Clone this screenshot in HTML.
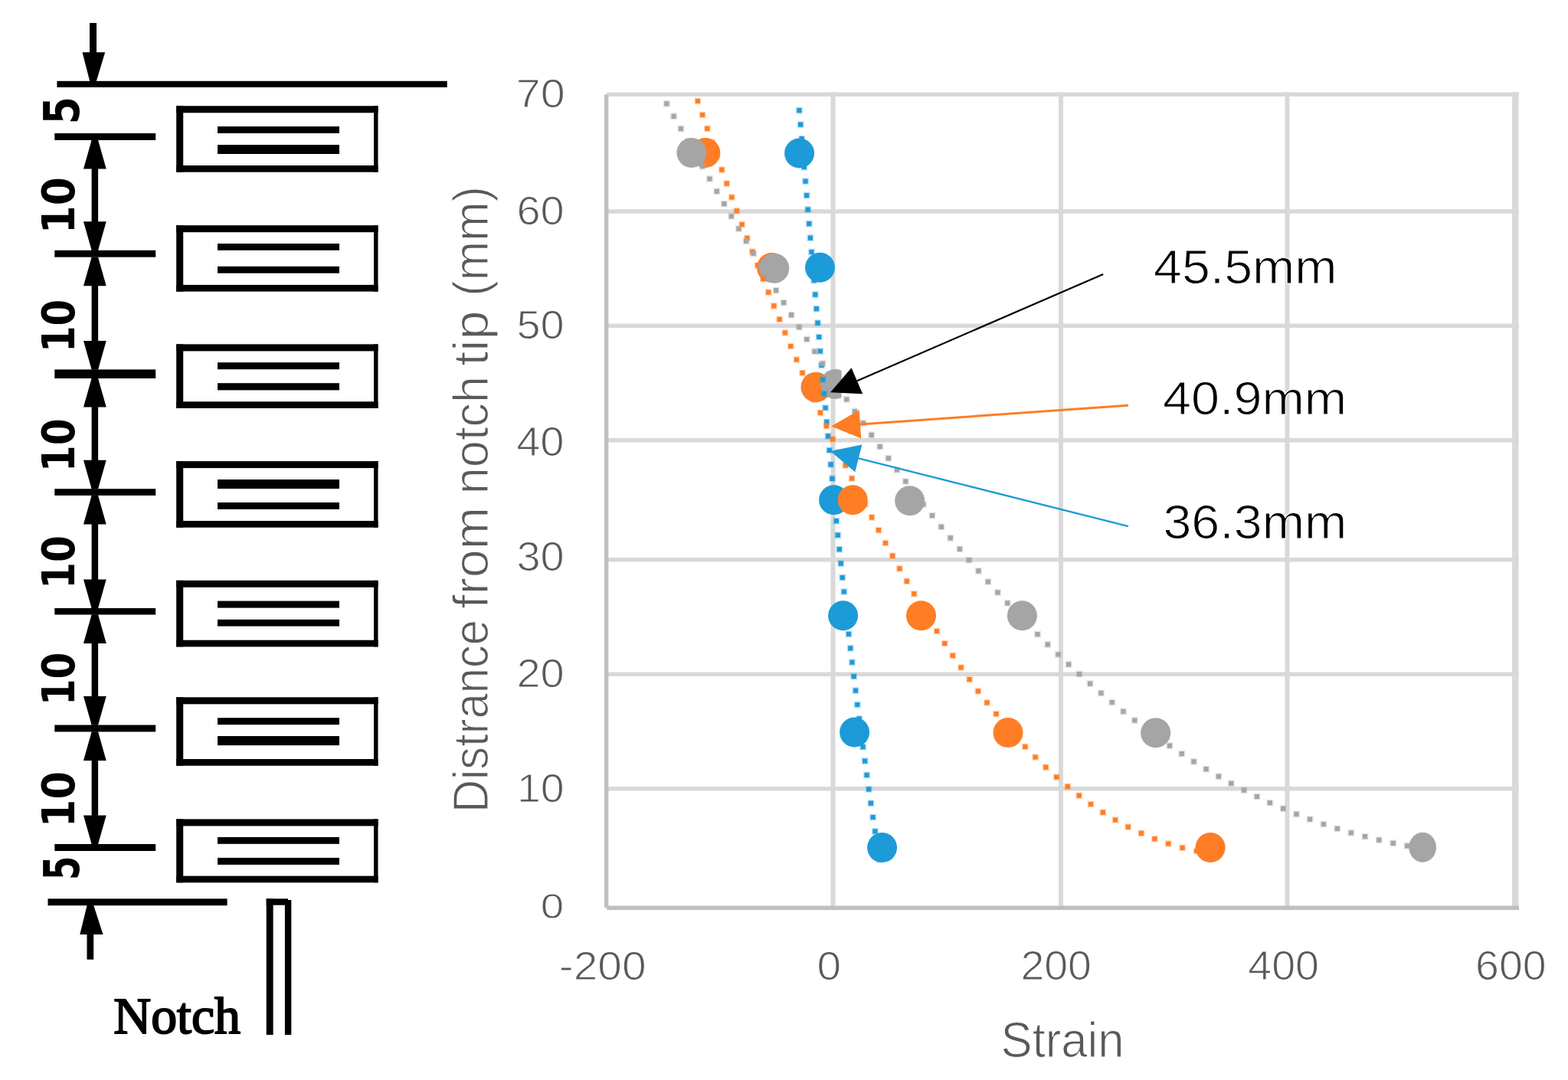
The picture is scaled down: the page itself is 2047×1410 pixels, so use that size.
<!DOCTYPE html>
<html><head><meta charset="utf-8"><title>Strain vs distance from notch tip</title>
<style>html,body{margin:0;padding:0;background:#fff;}svg{display:block;}</style></head>
<body><svg width="2047" height="1410" viewBox="0 0 2047 1410">
<defs><clipPath id="c45"><rect x="1060" y="470" width="38.5" height="60"/></clipPath></defs>
<rect width="2047" height="1410" fill="#fff"/>
<rect x="74.4" y="105.8" width="509.3" height="8.2" fill="#000"/>
<rect x="117.0" y="30.0" width="9.0" height="42.0" fill="#000"/>
<polygon points="107.5,68.2 137.2,68.2 125.8,106.0 117.2,106.0" fill="#000"/>
<rect x="71.3" y="174.0" width="131.9" height="9.0" fill="#000"/>
<rect x="71.3" y="326.8" width="131.9" height="8.9" fill="#000"/>
<rect x="71.3" y="482.4" width="131.9" height="11.6" fill="#000"/>
<rect x="71.3" y="638.2" width="131.9" height="8.7" fill="#000"/>
<rect x="71.3" y="794.0" width="131.9" height="8.5" fill="#000"/>
<rect x="71.3" y="946.5" width="131.9" height="8.9" fill="#000"/>
<rect x="71.3" y="1102.0" width="131.9" height="9.0" fill="#000"/>
<rect x="119.6" y="183.0" width="8.5" height="143.8" fill="#000"/>
<polygon points="119.6,183.0 128.1,183.0 138.7,220.5 109.0,220.5" fill="#000"/>
<polygon points="119.6,326.8 128.1,326.8 138.7,289.3 109.0,289.3" fill="#000"/>
<rect x="119.6" y="335.7" width="8.5" height="146.7" fill="#000"/>
<polygon points="119.6,335.7 128.1,335.7 138.7,373.2 109.0,373.2" fill="#000"/>
<polygon points="119.6,482.4 128.1,482.4 138.7,444.9 109.0,444.9" fill="#000"/>
<rect x="119.6" y="494.0" width="8.5" height="144.2" fill="#000"/>
<polygon points="119.6,494.0 128.1,494.0 138.7,531.5 109.0,531.5" fill="#000"/>
<polygon points="119.6,638.2 128.1,638.2 138.7,600.7 109.0,600.7" fill="#000"/>
<rect x="119.6" y="646.9" width="8.5" height="147.1" fill="#000"/>
<polygon points="119.6,646.9 128.1,646.9 138.7,684.4 109.0,684.4" fill="#000"/>
<polygon points="119.6,794.0 128.1,794.0 138.7,756.5 109.0,756.5" fill="#000"/>
<rect x="119.6" y="802.5" width="8.5" height="144.0" fill="#000"/>
<polygon points="119.6,802.5 128.1,802.5 138.7,840.0 109.0,840.0" fill="#000"/>
<polygon points="119.6,946.5 128.1,946.5 138.7,909.0 109.0,909.0" fill="#000"/>
<rect x="119.6" y="955.4" width="8.5" height="146.6" fill="#000"/>
<polygon points="119.6,955.4 128.1,955.4 138.7,992.9 109.0,992.9" fill="#000"/>
<polygon points="119.6,1102.0 128.1,1102.0 138.7,1064.5 109.0,1064.5" fill="#000"/>
<rect x="230.2" y="138.3" width="263.3" height="9.0" fill="#000"/>
<rect x="230.2" y="216.0" width="263.3" height="8.7" fill="#000"/>
<rect x="230.2" y="138.3" width="9.0" height="86.4" fill="#000"/>
<rect x="488.0" y="138.3" width="5.5" height="86.4" fill="#000"/>
<rect x="284.0" y="165.1" width="159.0" height="8.9" fill="#000"/>
<rect x="284.0" y="189.1" width="159.0" height="11.9" fill="#000"/>
<rect x="230.2" y="294.2" width="263.3" height="9.0" fill="#000"/>
<rect x="230.2" y="371.9" width="263.3" height="8.7" fill="#000"/>
<rect x="230.2" y="294.2" width="9.0" height="86.4" fill="#000"/>
<rect x="488.0" y="294.2" width="5.5" height="86.4" fill="#000"/>
<rect x="284.0" y="318.0" width="159.0" height="8.8" fill="#000"/>
<rect x="284.0" y="347.8" width="159.0" height="8.9" fill="#000"/>
<rect x="230.2" y="449.4" width="263.3" height="9.0" fill="#000"/>
<rect x="230.2" y="524.3" width="263.3" height="8.7" fill="#000"/>
<rect x="230.2" y="449.4" width="9.0" height="83.6" fill="#000"/>
<rect x="488.0" y="449.4" width="5.5" height="83.6" fill="#000"/>
<rect x="284.0" y="473.2" width="159.0" height="9.0" fill="#000"/>
<rect x="284.0" y="500.2" width="159.0" height="9.2" fill="#000"/>
<rect x="230.2" y="602.1" width="263.3" height="9.0" fill="#000"/>
<rect x="230.2" y="680.0" width="263.3" height="8.7" fill="#000"/>
<rect x="230.2" y="602.1" width="9.0" height="86.6" fill="#000"/>
<rect x="488.0" y="602.1" width="5.5" height="86.6" fill="#000"/>
<rect x="284.0" y="626.0" width="159.0" height="12.0" fill="#000"/>
<rect x="284.0" y="656.0" width="159.0" height="8.9" fill="#000"/>
<rect x="230.2" y="757.8" width="263.3" height="9.0" fill="#000"/>
<rect x="230.2" y="835.7" width="263.3" height="8.7" fill="#000"/>
<rect x="230.2" y="757.8" width="9.0" height="86.6" fill="#000"/>
<rect x="488.0" y="757.8" width="5.5" height="86.6" fill="#000"/>
<rect x="284.0" y="784.6" width="159.0" height="9.0" fill="#000"/>
<rect x="284.0" y="808.8" width="159.0" height="8.8" fill="#000"/>
<rect x="230.2" y="910.3" width="263.3" height="9.0" fill="#000"/>
<rect x="230.2" y="991.0" width="263.3" height="8.7" fill="#000"/>
<rect x="230.2" y="910.3" width="9.0" height="89.4" fill="#000"/>
<rect x="488.0" y="910.3" width="5.5" height="89.4" fill="#000"/>
<rect x="284.0" y="937.2" width="159.0" height="8.9" fill="#000"/>
<rect x="284.0" y="961.0" width="159.0" height="12.1" fill="#000"/>
<rect x="230.2" y="1069.4" width="263.3" height="9.0" fill="#000"/>
<rect x="230.2" y="1143.6" width="263.3" height="8.7" fill="#000"/>
<rect x="230.2" y="1069.4" width="9.0" height="82.9" fill="#000"/>
<rect x="488.0" y="1069.4" width="5.5" height="82.9" fill="#000"/>
<rect x="284.0" y="1092.9" width="159.0" height="8.9" fill="#000"/>
<rect x="284.0" y="1119.9" width="159.0" height="9.0" fill="#000"/>
<rect x="62.5" y="1173.3" width="234.1" height="8.9" fill="#000"/>
<rect x="113.5" y="1212.0" width="8.7" height="40.7" fill="#000"/>
<polygon points="113.6,1182.0 122.2,1182.0 134.5,1220.0 104.3,1220.0" fill="#000"/>
<rect x="347.7" y="1173.3" width="8.9" height="177.7" fill="#000"/>
<rect x="371.9" y="1175.0" width="8.4" height="176.0" fill="#000"/>
<rect x="347.7" y="1173.3" width="28.3" height="8.4" fill="#000"/>
<line x1="791.6" y1="123.2" x2="1983" y2="123.2" stroke="#d9d9d9" stroke-width="5.5"/>
<line x1="791.6" y1="276" x2="1983" y2="276" stroke="#d9d9d9" stroke-width="5.5"/>
<line x1="791.6" y1="425.3" x2="1983" y2="425.3" stroke="#d9d9d9" stroke-width="5.5"/>
<line x1="791.6" y1="574.8" x2="1983" y2="574.8" stroke="#d9d9d9" stroke-width="5.5"/>
<line x1="791.6" y1="730.8" x2="1983" y2="730.8" stroke="#d9d9d9" stroke-width="5.5"/>
<line x1="791.6" y1="880.2" x2="1983" y2="880.2" stroke="#d9d9d9" stroke-width="5.5"/>
<line x1="791.6" y1="1029.7" x2="1983" y2="1029.7" stroke="#d9d9d9" stroke-width="5.5"/>
<line x1="1087.5" y1="120.5" x2="1087.5" y2="1185" stroke="#d9d9d9" stroke-width="6"/>
<line x1="1385" y1="120.5" x2="1385" y2="1185" stroke="#d9d9d9" stroke-width="6"/>
<line x1="1680.5" y1="120.5" x2="1680.5" y2="1185" stroke="#d9d9d9" stroke-width="6"/>
<line x1="1978.3" y1="120.5" x2="1978.3" y2="1188" stroke="#d9d9d9" stroke-width="8.5"/>
<line x1="791.6" y1="123.4" x2="791.6" y2="1185" stroke="#bfbfbf" stroke-width="5.5"/>
<line x1="792.2" y1="1185.3" x2="1983" y2="1185.3" stroke="#bfbfbf" stroke-width="5.5"/>
<ellipse cx="1043.6" cy="200" rx="19.5" ry="19.5" fill="#1d9bd8"/>
<ellipse cx="1070.5" cy="349.3" rx="19.5" ry="19.5" fill="#1d9bd8"/>
<ellipse cx="1065.2" cy="505.4" rx="19.5" ry="19.5" fill="#1d9bd8"/>
<ellipse cx="1088.6" cy="652.8" rx="19.5" ry="19.5" fill="#1d9bd8"/>
<ellipse cx="1100.6" cy="803.7" rx="19.5" ry="19.5" fill="#1d9bd8"/>
<ellipse cx="1115.6" cy="956" rx="19.5" ry="19.5" fill="#1d9bd8"/>
<ellipse cx="1151.6" cy="1106.6" rx="19.5" ry="19.5" fill="#1d9bd8"/>
<ellipse cx="920.8" cy="199.5" rx="19.5" ry="19.5" fill="#ff7d25"/>
<ellipse cx="1007.5" cy="349.5" rx="19.5" ry="19.5" fill="#ff7d25"/>
<ellipse cx="1065.2" cy="505.4" rx="19.5" ry="19.5" fill="#ff7d25"/>
<ellipse cx="1113.3" cy="652.8" rx="19.5" ry="19.5" fill="#ff7d25"/>
<ellipse cx="1202.5" cy="803.7" rx="19.5" ry="19.5" fill="#ff7d25"/>
<ellipse cx="1316" cy="956.5" rx="19.5" ry="19.5" fill="#ff7d25"/>
<ellipse cx="1580.1" cy="1106.5" rx="19.5" ry="19.5" fill="#ff7d25"/>
<ellipse cx="902.9" cy="199.4" rx="19.5" ry="19.5" fill="#a5a5a5"/>
<ellipse cx="1010.8" cy="350.3" rx="19.5" ry="19.5" fill="#a5a5a5"/>
<ellipse cx="1090.5" cy="501.5" rx="19.5" ry="19.5" fill="#a5a5a5" clip-path="url(#c45)"/>
<ellipse cx="1187.7" cy="653.8" rx="19.5" ry="19.5" fill="#a5a5a5"/>
<ellipse cx="1334.4" cy="803.7" rx="19.5" ry="19.5" fill="#a5a5a5"/>
<ellipse cx="1508.7" cy="956.8" rx="19.5" ry="19.5" fill="#a5a5a5"/>
<ellipse cx="1857.2" cy="1106.2" rx="17.8" ry="19.5" fill="#a5a5a5"/>
<path d="M1038.9 139.7h9v9h-9zM1040.6 158.2h9v9h-9zM1042.2 176.7h9v9h-9zM1043.8 195.2h9v9h-9zM1045.4 213.7h9v9h-9zM1047.0 232.2h9v9h-9zM1048.6 250.6h9v9h-9zM1050.2 269.1h9v9h-9zM1051.8 287.6h9v9h-9zM1053.4 306.1h9v9h-9zM1055.0 324.6h9v9h-9zM1056.6 343.1h9v9h-9zM1058.2 361.6h9v9h-9zM1059.8 380.1h9v9h-9zM1061.4 398.6h9v9h-9zM1063.0 417.1h9v9h-9zM1064.7 435.5h9v9h-9zM1066.3 454.0h9v9h-9zM1068.0 472.5h9v9h-9zM1069.7 491.0h9v9h-9zM1071.4 509.5h9v9h-9zM1073.1 528.0h9v9h-9zM1074.8 546.4h9v9h-9zM1076.5 564.9h9v9h-9zM1078.3 583.4h9v9h-9zM1080.1 601.9h9v9h-9zM1081.9 620.3h9v9h-9zM1083.7 638.8h9v9h-9zM1085.5 657.3h9v9h-9zM1087.4 675.7h9v9h-9zM1089.3 694.2h9v9h-9zM1091.3 712.7h9v9h-9zM1093.2 731.1h9v9h-9zM1095.2 749.6h9v9h-9zM1097.3 768.0h9v9h-9zM1099.3 786.5h9v9h-9zM1101.4 804.9h9v9h-9zM1103.5 823.3h9v9h-9zM1105.7 841.8h9v9h-9zM1107.9 860.2h9v9h-9zM1110.2 878.6h9v9h-9zM1112.5 897.1h9v9h-9zM1114.8 915.5h9v9h-9zM1117.2 933.9h9v9h-9zM1119.6 952.3h9v9h-9zM1122.1 970.7h9v9h-9zM1124.6 989.1h9v9h-9zM1127.1 1007.4h9v9h-9zM1129.7 1025.8h9v9h-9zM1132.4 1044.2h9v9h-9zM1135.1 1062.5h9v9h-9zM1137.9 1080.9h9v9h-9zM1140.7 1099.2h9v9h-9zM1143.6 1117.6h9v9h-9z" fill="#1d9bd8" fill-opacity="0.28"/>
<path d="M1040.3 141.1h6.2v6.2h-6.2zM1042.0 159.6h6.2v6.2h-6.2zM1043.6 178.1h6.2v6.2h-6.2zM1045.2 196.6h6.2v6.2h-6.2zM1046.8 215.1h6.2v6.2h-6.2zM1048.4 233.6h6.2v6.2h-6.2zM1050.0 252.0h6.2v6.2h-6.2zM1051.6 270.5h6.2v6.2h-6.2zM1053.2 289.0h6.2v6.2h-6.2zM1054.8 307.5h6.2v6.2h-6.2zM1056.4 326.0h6.2v6.2h-6.2zM1058.0 344.5h6.2v6.2h-6.2zM1059.6 363.0h6.2v6.2h-6.2zM1061.2 381.5h6.2v6.2h-6.2zM1062.8 400.0h6.2v6.2h-6.2zM1064.4 418.5h6.2v6.2h-6.2zM1066.1 436.9h6.2v6.2h-6.2zM1067.7 455.4h6.2v6.2h-6.2zM1069.4 473.9h6.2v6.2h-6.2zM1071.1 492.4h6.2v6.2h-6.2zM1072.8 510.9h6.2v6.2h-6.2zM1074.5 529.4h6.2v6.2h-6.2zM1076.2 547.8h6.2v6.2h-6.2zM1077.9 566.3h6.2v6.2h-6.2zM1079.7 584.8h6.2v6.2h-6.2zM1081.5 603.3h6.2v6.2h-6.2zM1083.3 621.7h6.2v6.2h-6.2zM1085.1 640.2h6.2v6.2h-6.2zM1086.9 658.7h6.2v6.2h-6.2zM1088.8 677.1h6.2v6.2h-6.2zM1090.7 695.6h6.2v6.2h-6.2zM1092.7 714.1h6.2v6.2h-6.2zM1094.6 732.5h6.2v6.2h-6.2zM1096.6 751.0h6.2v6.2h-6.2zM1098.7 769.4h6.2v6.2h-6.2zM1100.7 787.9h6.2v6.2h-6.2zM1102.8 806.3h6.2v6.2h-6.2zM1104.9 824.7h6.2v6.2h-6.2zM1107.1 843.2h6.2v6.2h-6.2zM1109.3 861.6h6.2v6.2h-6.2zM1111.6 880.0h6.2v6.2h-6.2zM1113.9 898.5h6.2v6.2h-6.2zM1116.2 916.9h6.2v6.2h-6.2zM1118.6 935.3h6.2v6.2h-6.2zM1121.0 953.7h6.2v6.2h-6.2zM1123.5 972.1h6.2v6.2h-6.2zM1126.0 990.5h6.2v6.2h-6.2zM1128.5 1008.8h6.2v6.2h-6.2zM1131.1 1027.2h6.2v6.2h-6.2zM1133.8 1045.6h6.2v6.2h-6.2zM1136.5 1063.9h6.2v6.2h-6.2zM1139.3 1082.3h6.2v6.2h-6.2zM1142.1 1100.6h6.2v6.2h-6.2zM1145.0 1119.0h6.2v6.2h-6.2z" fill="#1d9bd8"/>
<path d="M906.4 127.5h9v9h-9zM912.6 145.5h9v9h-9zM918.8 163.4h9v9h-9zM925.1 181.4h9v9h-9zM931.4 199.3h9v9h-9zM937.8 217.2h9v9h-9zM944.3 235.1h9v9h-9zM950.8 253.0h9v9h-9zM957.4 270.8h9v9h-9zM964.1 288.6h9v9h-9zM970.9 306.4h9v9h-9zM977.7 324.2h9v9h-9zM984.6 341.9h9v9h-9zM991.6 359.6h9v9h-9zM998.7 377.2h9v9h-9zM1005.8 394.9h9v9h-9zM1013.1 412.4h9v9h-9zM1020.4 430.0h9v9h-9zM1027.8 447.5h9v9h-9zM1035.4 465.0h9v9h-9zM1043.0 482.4h9v9h-9zM1050.7 499.8h9v9h-9zM1058.5 517.1h9v9h-9zM1066.4 534.4h9v9h-9zM1074.5 551.7h9v9h-9zM1082.6 568.9h9v9h-9zM1090.8 586.0h9v9h-9zM1099.2 603.1h9v9h-9zM1107.6 620.1h9v9h-9zM1116.2 637.1h9v9h-9zM1124.8 654.0h9v9h-9zM1133.6 670.9h9v9h-9zM1142.5 687.7h9v9h-9zM1151.5 704.5h9v9h-9zM1160.7 721.2h9v9h-9zM1169.9 737.8h9v9h-9zM1179.3 754.3h9v9h-9zM1188.8 770.8h9v9h-9zM1198.5 787.2h9v9h-9zM1208.4 803.4h9v9h-9zM1218.5 819.5h9v9h-9zM1228.8 835.5h9v9h-9zM1239.3 851.4h9v9h-9zM1250.1 867.0h9v9h-9zM1261.1 882.5h9v9h-9zM1272.4 897.8h9v9h-9zM1284.0 912.9h9v9h-9zM1296.0 927.7h9v9h-9zM1308.2 942.2h9v9h-9zM1320.8 956.5h9v9h-9zM1333.8 970.4h9v9h-9zM1347.1 984.0h9v9h-9zM1360.8 997.2h9v9h-9zM1374.8 1010.0h9v9h-9zM1389.3 1022.4h9v9h-9zM1404.2 1034.2h9v9h-9zM1419.5 1045.5h9v9h-9zM1435.3 1056.1h9v9h-9zM1451.5 1066.0h9v9h-9zM1468.2 1075.1h9v9h-9zM1485.4 1083.3h9v9h-9zM1502.9 1090.7h9v9h-9zM1520.8 1097.0h9v9h-9zM1539.1 1102.3h9v9h-9zM1557.6 1106.5h9v9h-9z" fill="#ff7d25" fill-opacity="0.28"/>
<path d="M907.8 128.9h6.2v6.2h-6.2zM914.0 146.9h6.2v6.2h-6.2zM920.2 164.8h6.2v6.2h-6.2zM926.5 182.8h6.2v6.2h-6.2zM932.8 200.7h6.2v6.2h-6.2zM939.2 218.6h6.2v6.2h-6.2zM945.7 236.5h6.2v6.2h-6.2zM952.2 254.4h6.2v6.2h-6.2zM958.8 272.2h6.2v6.2h-6.2zM965.5 290.0h6.2v6.2h-6.2zM972.3 307.8h6.2v6.2h-6.2zM979.1 325.6h6.2v6.2h-6.2zM986.0 343.3h6.2v6.2h-6.2zM993.0 361.0h6.2v6.2h-6.2zM1000.1 378.6h6.2v6.2h-6.2zM1007.2 396.3h6.2v6.2h-6.2zM1014.5 413.8h6.2v6.2h-6.2zM1021.8 431.4h6.2v6.2h-6.2zM1029.2 448.9h6.2v6.2h-6.2zM1036.8 466.4h6.2v6.2h-6.2zM1044.4 483.8h6.2v6.2h-6.2zM1052.1 501.2h6.2v6.2h-6.2zM1059.9 518.5h6.2v6.2h-6.2zM1067.8 535.8h6.2v6.2h-6.2zM1075.9 553.1h6.2v6.2h-6.2zM1084.0 570.3h6.2v6.2h-6.2zM1092.2 587.4h6.2v6.2h-6.2zM1100.6 604.5h6.2v6.2h-6.2zM1109.0 621.5h6.2v6.2h-6.2zM1117.6 638.5h6.2v6.2h-6.2zM1126.2 655.4h6.2v6.2h-6.2zM1135.0 672.3h6.2v6.2h-6.2zM1143.9 689.1h6.2v6.2h-6.2zM1152.9 705.9h6.2v6.2h-6.2zM1162.1 722.6h6.2v6.2h-6.2zM1171.3 739.2h6.2v6.2h-6.2zM1180.7 755.7h6.2v6.2h-6.2zM1190.2 772.2h6.2v6.2h-6.2zM1199.9 788.6h6.2v6.2h-6.2zM1209.8 804.8h6.2v6.2h-6.2zM1219.9 820.9h6.2v6.2h-6.2zM1230.2 836.9h6.2v6.2h-6.2zM1240.7 852.8h6.2v6.2h-6.2zM1251.5 868.4h6.2v6.2h-6.2zM1262.5 883.9h6.2v6.2h-6.2zM1273.8 899.2h6.2v6.2h-6.2zM1285.4 914.3h6.2v6.2h-6.2zM1297.4 929.1h6.2v6.2h-6.2zM1309.6 943.6h6.2v6.2h-6.2zM1322.2 957.9h6.2v6.2h-6.2zM1335.2 971.8h6.2v6.2h-6.2zM1348.5 985.4h6.2v6.2h-6.2zM1362.2 998.6h6.2v6.2h-6.2zM1376.2 1011.4h6.2v6.2h-6.2zM1390.7 1023.8h6.2v6.2h-6.2zM1405.6 1035.6h6.2v6.2h-6.2zM1420.9 1046.9h6.2v6.2h-6.2zM1436.7 1057.5h6.2v6.2h-6.2zM1452.9 1067.4h6.2v6.2h-6.2zM1469.6 1076.5h6.2v6.2h-6.2zM1486.8 1084.7h6.2v6.2h-6.2zM1504.3 1092.1h6.2v6.2h-6.2zM1522.2 1098.4h6.2v6.2h-6.2zM1540.5 1103.7h6.2v6.2h-6.2zM1559.0 1107.9h6.2v6.2h-6.2z" fill="#ff7d25"/>
<path d="M865.8 130.9h9v9h-9zM875.1 147.3h9v9h-9zM884.4 163.6h9v9h-9zM893.7 180.0h9v9h-9zM903.1 196.4h9v9h-9zM912.5 212.7h9v9h-9zM921.9 229.0h9v9h-9zM931.3 245.3h9v9h-9zM940.8 261.6h9v9h-9zM950.3 277.8h9v9h-9zM959.9 294.1h9v9h-9zM969.6 310.3h9v9h-9zM979.2 326.4h9v9h-9zM989.0 342.5h9v9h-9zM998.8 358.6h9v9h-9zM1008.6 374.7h9v9h-9zM1018.6 390.7h9v9h-9zM1028.6 406.7h9v9h-9zM1038.6 422.6h9v9h-9zM1048.8 438.5h9v9h-9zM1059.0 454.3h9v9h-9zM1069.4 470.0h9v9h-9zM1079.8 485.7h9v9h-9zM1090.3 501.4h9v9h-9zM1100.8 517.0h9v9h-9zM1111.5 532.5h9v9h-9zM1122.3 547.9h9v9h-9zM1133.2 563.3h9v9h-9zM1144.2 578.6h9v9h-9zM1155.3 593.8h9v9h-9zM1166.5 609.0h9v9h-9zM1177.8 624.0h9v9h-9zM1189.3 639.0h9v9h-9zM1200.8 653.9h9v9h-9zM1212.5 668.6h9v9h-9zM1224.3 683.3h9v9h-9zM1236.3 697.9h9v9h-9zM1248.4 712.3h9v9h-9zM1260.6 726.7h9v9h-9zM1272.9 740.9h9v9h-9zM1285.4 755.0h9v9h-9zM1298.0 769.0h9v9h-9zM1310.8 782.9h9v9h-9zM1323.7 796.6h9v9h-9zM1336.7 810.2h9v9h-9zM1350.0 823.6h9v9h-9zM1363.3 836.9h9v9h-9zM1376.9 850.0h9v9h-9zM1390.6 862.9h9v9h-9zM1404.5 875.6h9v9h-9zM1418.6 888.1h9v9h-9zM1432.9 900.4h9v9h-9zM1447.3 912.5h9v9h-9zM1462.0 924.4h9v9h-9zM1476.8 936.0h9v9h-9zM1491.9 947.3h9v9h-9zM1507.1 958.4h9v9h-9zM1522.5 969.1h9v9h-9zM1538.2 979.6h9v9h-9zM1554.0 989.8h9v9h-9zM1570.1 999.7h9v9h-9zM1586.4 1009.2h9v9h-9zM1602.8 1018.3h9v9h-9zM1619.5 1027.1h9v9h-9zM1636.4 1035.5h9v9h-9zM1653.4 1043.6h9v9h-9zM1670.6 1051.2h9v9h-9zM1688.0 1058.4h9v9h-9zM1705.6 1065.1h9v9h-9zM1723.4 1071.5h9v9h-9zM1741.3 1077.4h9v9h-9zM1759.3 1082.8h9v9h-9zM1777.5 1087.7h9v9h-9zM1795.8 1092.2h9v9h-9zM1814.2 1096.3h9v9h-9zM1832.7 1099.8h9v9h-9zM1851.3 1102.9h9v9h-9z" fill="#a5a5a5" fill-opacity="0.28"/>
<path d="M867.2 132.3h6.2v6.2h-6.2zM876.5 148.7h6.2v6.2h-6.2zM885.8 165.0h6.2v6.2h-6.2zM895.1 181.4h6.2v6.2h-6.2zM904.5 197.8h6.2v6.2h-6.2zM913.9 214.1h6.2v6.2h-6.2zM923.3 230.4h6.2v6.2h-6.2zM932.7 246.7h6.2v6.2h-6.2zM942.2 263.0h6.2v6.2h-6.2zM951.7 279.2h6.2v6.2h-6.2zM961.3 295.5h6.2v6.2h-6.2zM971.0 311.7h6.2v6.2h-6.2zM980.6 327.8h6.2v6.2h-6.2zM990.4 343.9h6.2v6.2h-6.2zM1000.2 360.0h6.2v6.2h-6.2zM1010.0 376.1h6.2v6.2h-6.2zM1020.0 392.1h6.2v6.2h-6.2zM1030.0 408.1h6.2v6.2h-6.2zM1040.0 424.0h6.2v6.2h-6.2zM1050.2 439.9h6.2v6.2h-6.2zM1060.4 455.7h6.2v6.2h-6.2zM1070.8 471.4h6.2v6.2h-6.2zM1081.2 487.1h6.2v6.2h-6.2zM1091.7 502.8h6.2v6.2h-6.2zM1102.2 518.4h6.2v6.2h-6.2zM1112.9 533.9h6.2v6.2h-6.2zM1123.7 549.3h6.2v6.2h-6.2zM1134.6 564.7h6.2v6.2h-6.2zM1145.6 580.0h6.2v6.2h-6.2zM1156.7 595.2h6.2v6.2h-6.2zM1167.9 610.4h6.2v6.2h-6.2zM1179.2 625.4h6.2v6.2h-6.2zM1190.7 640.4h6.2v6.2h-6.2zM1202.2 655.3h6.2v6.2h-6.2zM1213.9 670.0h6.2v6.2h-6.2zM1225.7 684.7h6.2v6.2h-6.2zM1237.7 699.3h6.2v6.2h-6.2zM1249.8 713.7h6.2v6.2h-6.2zM1262.0 728.1h6.2v6.2h-6.2zM1274.3 742.3h6.2v6.2h-6.2zM1286.8 756.4h6.2v6.2h-6.2zM1299.4 770.4h6.2v6.2h-6.2zM1312.2 784.3h6.2v6.2h-6.2zM1325.1 798.0h6.2v6.2h-6.2zM1338.1 811.6h6.2v6.2h-6.2zM1351.4 825.0h6.2v6.2h-6.2zM1364.7 838.3h6.2v6.2h-6.2zM1378.3 851.4h6.2v6.2h-6.2zM1392.0 864.3h6.2v6.2h-6.2zM1405.9 877.0h6.2v6.2h-6.2zM1420.0 889.5h6.2v6.2h-6.2zM1434.3 901.8h6.2v6.2h-6.2zM1448.7 913.9h6.2v6.2h-6.2zM1463.4 925.8h6.2v6.2h-6.2zM1478.2 937.4h6.2v6.2h-6.2zM1493.3 948.7h6.2v6.2h-6.2zM1508.5 959.8h6.2v6.2h-6.2zM1523.9 970.5h6.2v6.2h-6.2zM1539.6 981.0h6.2v6.2h-6.2zM1555.4 991.2h6.2v6.2h-6.2zM1571.5 1001.1h6.2v6.2h-6.2zM1587.8 1010.6h6.2v6.2h-6.2zM1604.2 1019.7h6.2v6.2h-6.2zM1620.9 1028.5h6.2v6.2h-6.2zM1637.8 1036.9h6.2v6.2h-6.2zM1654.8 1045.0h6.2v6.2h-6.2zM1672.0 1052.6h6.2v6.2h-6.2zM1689.4 1059.8h6.2v6.2h-6.2zM1707.0 1066.5h6.2v6.2h-6.2zM1724.8 1072.9h6.2v6.2h-6.2zM1742.7 1078.8h6.2v6.2h-6.2zM1760.7 1084.2h6.2v6.2h-6.2zM1778.9 1089.1h6.2v6.2h-6.2zM1797.2 1093.6h6.2v6.2h-6.2zM1815.6 1097.7h6.2v6.2h-6.2zM1834.1 1101.2h6.2v6.2h-6.2zM1852.7 1104.3h6.2v6.2h-6.2z" fill="#a5a5a5"/>
<line x1="1440.2" y1="358.1" x2="1118.9" y2="497.2" stroke="#000" stroke-width="2.2"/>
<polygon points="1084.0,512.3 1111.5,480.2 1126.2,514.2" fill="#000"/>
<line x1="1473" y1="529.3" x2="1123.0" y2="553.9" stroke="#ff7d25" stroke-width="3"/>
<polygon points="1085.1,556.6 1121.7,535.5 1124.3,572.4" fill="#ff7d25"/>
<line x1="1473" y1="687.2" x2="1120.8" y2="598.3" stroke="#1d9bd8" stroke-width="2.3"/>
<polygon points="1084.0,589.0 1125.4,580.4 1116.3,616.2" fill="#1d9bd8"/>
<text transform="translate(103.04,162.27) rotate(-90) scale(0.8676,1.0622)" font-family="DejaVu Sans, sans-serif" font-weight="bold" font-size="60" fill="#000">5</text>
<text transform="translate(103.24,1149.01) rotate(-90) scale(0.7529,1.0600)" font-family="DejaVu Sans, sans-serif" font-weight="bold" font-size="60" fill="#000">5</text>
<text transform="translate(97.42,305.31) rotate(-90) scale(0.8853,0.9804)" font-family="DejaVu Sans, sans-serif" font-weight="bold" font-size="60" fill="#000">10</text>
<text transform="translate(97.42,460.08) rotate(-90) scale(0.8307,0.9804)" font-family="DejaVu Sans, sans-serif" font-weight="bold" font-size="60" fill="#000">10</text>
<text transform="translate(97.42,616.22) rotate(-90) scale(0.8373,0.9804)" font-family="DejaVu Sans, sans-serif" font-weight="bold" font-size="60" fill="#000">10</text>
<text transform="translate(97.42,768.92) rotate(-90) scale(0.8360,0.9804)" font-family="DejaVu Sans, sans-serif" font-weight="bold" font-size="60" fill="#000">10</text>
<text transform="translate(97.42,921.32) rotate(-90) scale(0.8360,0.9804)" font-family="DejaVu Sans, sans-serif" font-weight="bold" font-size="60" fill="#000">10</text>
<text transform="translate(97.42,1080.16) rotate(-90) scale(0.8760,0.9804)" font-family="DejaVu Sans, sans-serif" font-weight="bold" font-size="60" fill="#000">10</text>
<text transform="translate(148.27,1348.93) scale(1.0267,1.0327)" font-family="Liberation Serif, serif" font-weight="normal" font-size="66" fill="#000" stroke="#000" stroke-width="2.0">Notch</text>
<text transform="translate(673.73,140.03) scale(1.0836,0.9692)" font-family="Liberation Sans, sans-serif" font-weight="normal" font-size="53" fill="#595959" stroke="#fff" stroke-width="1.1">70</text>
<text transform="translate(674.39,292.52) scale(1.0545,0.9846)" font-family="Liberation Sans, sans-serif" font-weight="normal" font-size="53" fill="#595959" stroke="#fff" stroke-width="1.1">60</text>
<text transform="translate(674.39,442.02) scale(1.0545,0.9846)" font-family="Liberation Sans, sans-serif" font-weight="normal" font-size="53" fill="#595959" stroke="#fff" stroke-width="1.1">50</text>
<text transform="translate(674.14,595.28) scale(1.0589,1.0154)" font-family="Liberation Sans, sans-serif" font-weight="normal" font-size="53" fill="#595959" stroke="#fff" stroke-width="1.1">40</text>
<text transform="translate(674.39,744.98) scale(1.0545,1.0154)" font-family="Liberation Sans, sans-serif" font-weight="normal" font-size="53" fill="#595959" stroke="#fff" stroke-width="1.1">30</text>
<text transform="translate(674.39,897.12) scale(1.0545,0.9846)" font-family="Liberation Sans, sans-serif" font-weight="normal" font-size="53" fill="#595959" stroke="#fff" stroke-width="1.1">20</text>
<text transform="translate(674.92,1047.11) scale(1.0453,0.9949)" font-family="Liberation Sans, sans-serif" font-weight="normal" font-size="53" fill="#595959" stroke="#fff" stroke-width="1.1">10</text>
<text transform="translate(705.84,1198.72) scale(1.0308,0.8846)" font-family="Liberation Sans, sans-serif" font-weight="normal" font-size="53" fill="#595959" stroke="#fff" stroke-width="1.1">0</text>
<text transform="translate(729.86,1278.62) scale(1.0716,0.9769)" font-family="Liberation Sans, sans-serif" font-weight="normal" font-size="53" fill="#595959" stroke="#fff" stroke-width="1.1">-200</text>
<text transform="translate(1066.55,1278.62) scale(1.0731,0.9769)" font-family="Liberation Sans, sans-serif" font-weight="normal" font-size="53" fill="#595959" stroke="#fff" stroke-width="1.1">0</text>
<text transform="translate(1332.41,1279.27) scale(1.0459,1.0282)" font-family="Liberation Sans, sans-serif" font-weight="normal" font-size="53" fill="#595959" stroke="#fff" stroke-width="1.1">200</text>
<text transform="translate(1629.25,1279.27) scale(1.0488,1.0282)" font-family="Liberation Sans, sans-serif" font-weight="normal" font-size="53" fill="#595959" stroke="#fff" stroke-width="1.1">400</text>
<text transform="translate(1926.11,1279.27) scale(1.0471,1.0282)" font-family="Liberation Sans, sans-serif" font-weight="normal" font-size="53" fill="#595959" stroke="#fff" stroke-width="1.1">600</text>
<text transform="translate(1306.62,1379.64) scale(0.9935,1.0556)" font-family="Liberation Sans, sans-serif" font-weight="normal" font-size="62" fill="#595959" stroke="#fff" stroke-width="1.1">Strain</text>
<text transform="translate(1506.12,370.47) scale(1.0774,1.0256)" font-family="Liberation Sans, sans-serif" font-weight="normal" font-size="61.5" fill="#000" stroke="#fff" stroke-width="1.1">45.5mm</text>
<text transform="translate(1518.02,540.80) scale(1.0816,0.9955)" font-family="Liberation Sans, sans-serif" font-weight="normal" font-size="61.5" fill="#000" stroke="#fff" stroke-width="1.1">40.9mm</text>
<text transform="translate(1518.44,702.58) scale(1.0796,1.0159)" font-family="Liberation Sans, sans-serif" font-weight="normal" font-size="61.5" fill="#000" stroke="#fff" stroke-width="1.1">36.3mm</text>
<text transform="translate(636.90,1061.02) rotate(-90) scale(1.0293,1.1167)" font-family="Liberation Sans, sans-serif" font-weight="normal" font-size="58" fill="#595959" stroke="#fff" stroke-width="1.1">Distrance</text>
<text transform="translate(636.90,794.75) rotate(-90) scale(1.1464,1.1167)" font-family="Liberation Sans, sans-serif" font-weight="normal" font-size="58" fill="#595959" stroke="#fff" stroke-width="1.1">from</text>
<text transform="translate(636.90,645.25) rotate(-90) scale(1.0874,1.1167)" font-family="Liberation Sans, sans-serif" font-weight="normal" font-size="58" fill="#595959" stroke="#fff" stroke-width="1.1">notch</text>
<text transform="translate(636.90,477.78) rotate(-90) scale(1.1828,1.1167)" font-family="Liberation Sans, sans-serif" font-weight="normal" font-size="58" fill="#595959" stroke="#fff" stroke-width="1.1">tip</text>
<text transform="translate(636.90,386.69) rotate(-90) scale(1.0628,1.1167)" font-family="Liberation Sans, sans-serif" font-weight="normal" font-size="58" fill="#595959" stroke="#fff" stroke-width="1.1">(mm)</text>
</svg></body></html>
